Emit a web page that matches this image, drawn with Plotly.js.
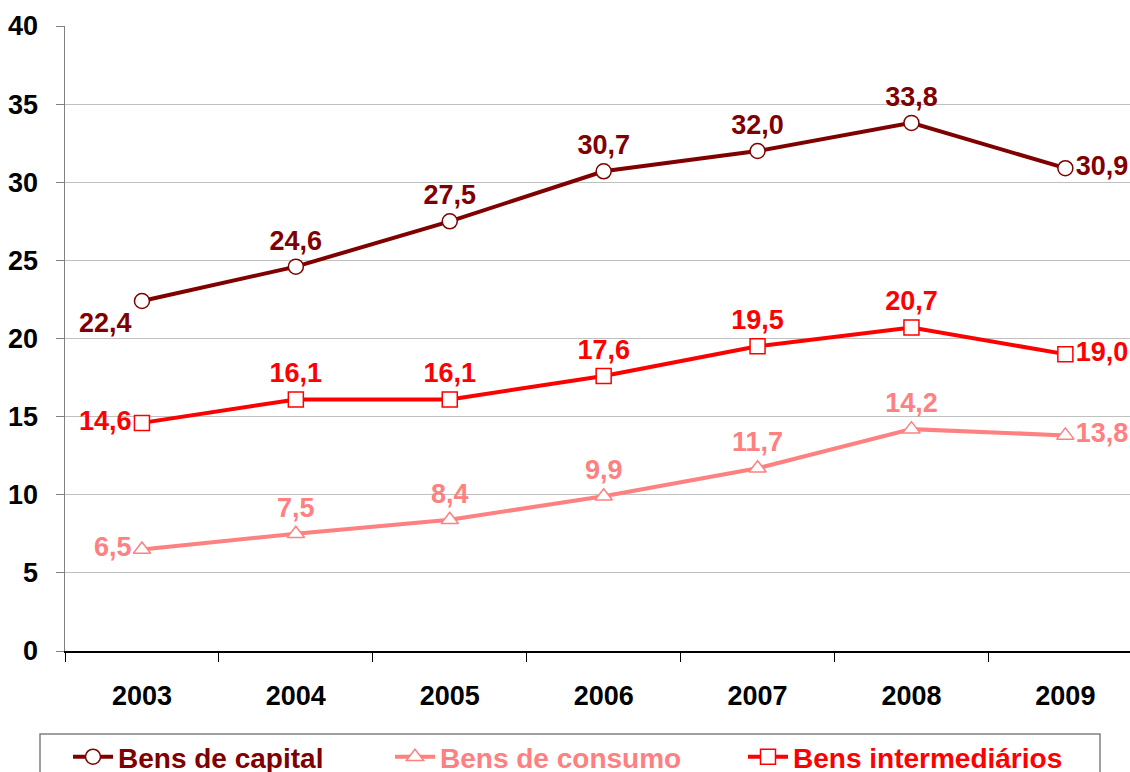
<!DOCTYPE html>
<html>
<head>
<meta charset="utf-8">
<script src="https://cdn.plot.ly/plotly-3.0.1.min.js"></script>
<style>html,body{margin:0;padding:0;background:#fff;}#chart{width:1130px;height:772px;}</style>
</head>
<body>
<div id="chart"></div>
<script>
var years = ['2003','2004','2005','2006','2007','2008','2009'];
var capital = [22.4, 24.6, 27.5, 30.7, 32.0, 33.8, 30.9];
var consumo = [6.5, 7.5, 8.4, 9.9, 11.7, 14.2, 13.8];
var intermediarios = [14.6, 16.1, 16.1, 17.6, 19.5, 20.7, 19.0];
var yTicks = [0, 5, 10, 15, 20, 25, 30, 35, 40];

function fmt(v){ return v.toFixed(1).replace('.', ','); }

var FONT = 'Arial, "Liberation Sans", sans-serif';
var W = 1130, L = 65, PW = W - L;
function px(x){ return (x - L) / PW; }
function py(y){ return (651 - y) / 625; }

function trace(name, vals, color, symbol, pos, legend){
  return {
    type: 'scatter', mode: 'lines+markers+text', name: name,
    x: years, y: vals,
    text: vals.map(fmt), textposition: pos,
    textfont: {family: FONT, size: 27, color: color, weight: 'bold'},
    line: {color: color, width: 4},
    marker: {symbol: symbol, size: 15, color: '#ffffff', line: {color: color, width: 1.5}},
    cliponaxis: false, legend: legend
  };
}

var data = [
  trace('Bens de capital', capital, '#800000', 'circle',
        ['bottom left','top center','top center','top center','top center','top center','middle right'], 'legend'),
  trace('Bens de consumo', consumo, '#FF8080', 'triangle-up',
        ['middle left','top center','top center','top center','top center','top center','middle right'], 'legend2'),
  trace('Bens intermediários', intermediarios, '#FF0000', 'square',
        ['middle left','top center','top center','top center','top center','top center','middle right'], 'legend3')
];

function leg(x, color){
  return {x: px(x), xanchor: 'left', y: py(732), yanchor: 'top', orientation: 'h',
          bgcolor: 'rgba(0,0,0,0)', borderwidth: 0, itemwidth: 40,
          font: {family: FONT, size: 28, color: color, weight: 'bold'}};
}

var layout = {
  width: 1130, height: 772,
  margin: {l: L, r: 0, t: 26, b: 121, autoexpand: false},
  paper_bgcolor: '#ffffff', plot_bgcolor: '#ffffff',
  showlegend: true,
  xaxis: {
    type: 'category', range: [-0.5, 6.42],
    showline: true, linecolor: '#000000', linewidth: 1.5,
    ticks: 'outside', tickson: 'boundaries', ticklen: 9, tickcolor: '#000000',
    ticklabelstandoff: 20,
    tickfont: {family: FONT, size: 27, color: '#000000', weight: 'bold'},
    showgrid: false, zeroline: false, fixedrange: true
  },
  yaxis: {
    range: [0, 40], tickvals: yTicks, ticktext: yTicks.map(String),
    showline: true, linecolor: '#808080', linewidth: 1.5,
    ticks: 'outside', ticklen: 8, tickcolor: '#808080',
    ticklabelstandoff: 12,
    tickfont: {family: FONT, size: 27, color: '#000000', weight: 'bold'},
    showgrid: true, gridcolor: '#c0c0c0', gridwidth: 1, zeroline: false, fixedrange: true
  },
  legend: leg(68, '#800000'),
  legend2: leg(390, '#FF8080'),
  legend3: leg(743, '#FF0000'),
  shapes: [{type: 'rect', xref: 'paper', yref: 'paper',
            x0: px(40), x1: px(1100), y0: py(734), y1: py(800),
            line: {color: '#808080', width: 1.5}, fillcolor: 'rgba(0,0,0,0)'}]
};

Plotly.newPlot('chart', data, layout, {displayModeBar: false, staticPlot: true});
</script>
</body>
</html>
